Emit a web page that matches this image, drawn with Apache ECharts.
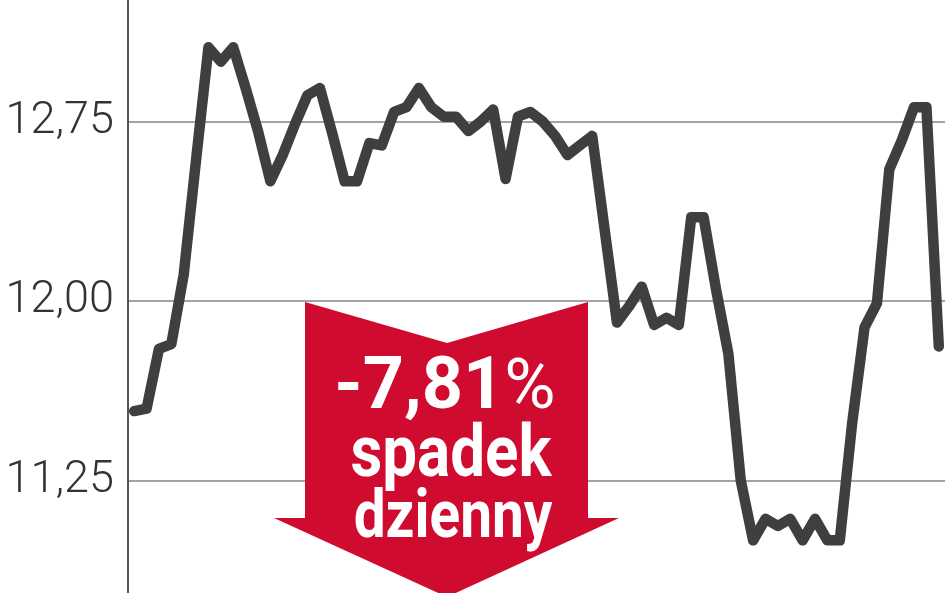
<!DOCTYPE html>
<html>
<head>
<meta charset="utf-8">
<script src="https://cdn.jsdelivr.net/npm/echarts@6/dist/echarts.min.js"></script>
<style>
html,body{margin:0;padding:0;background:#fff;overflow:hidden;width:948px;height:593px;}
#wrap{position:relative;width:948px;height:593px;overflow:hidden;}
#chart{position:absolute;left:0;top:-58px;width:948px;height:718px;}
</style>
</head>
<body>
<div id="wrap"><div id="chart"></div></div>
<script>
var days = ['D1','D2','D3','D4','D5','D6','D7','D8','D9','D10','D11','D12','D13','D14','D15','D16','D17','D18','D19','D20','D21','D22','D23','D24','D25','D26','D27','D28','D29','D30','D31','D32','D33','D34','D35','D36','D37','D38','D39','D40','D41','D42','D43','D44','D45','D46','D47','D48','D49','D50','D51','D52','D53','D54','D55','D56','D57','D58','D59','D60','D61','D62','D63','D64','D65','D66'];
var prices = [11.54,11.55,11.80,11.82,12.11,12.59,13.06,13.00,13.06,12.89,
              12.71,12.50,12.61,12.74,12.86,12.89,12.70,12.50,12.50,12.66,
              12.65,12.79,12.81,12.89,12.81,12.77,12.77,12.71,12.75,12.80,
              12.51,12.77,12.79,12.75,12.69,12.61,12.65,12.69,12.30,11.91,
              11.98,12.06,11.90,11.93,11.90,12.35,12.35,12.05,11.78,11.25,
              11.00,11.09,11.06,11.09,11.00,11.09,11.00,11.00,11.49,11.89,
              11.99,12.55,12.67,12.81,12.81,11.81];
var tickValues = [11.25, 12.00, 12.75];
var tickLabels = ['11,25', '12,00', '12,75'];
var changeText = '-7,81';
var noteLines = ['spadek', 'dzienny'];

var OFF = 58; // chart div is shifted up by this many pixels
var chart = echarts.init(document.getElementById('chart'), null, {renderer: 'canvas'});
chart.setOption({
  animation: false,
  backgroundColor: '#ffffff',
  grid: {left: 128, right: 3, top: 0, bottom: 0, containLabel: false},
  xAxis: {
    type: 'category',
    data: days,
    boundaryGap: true,
    show: false
  },
  yAxis: {
    type: 'value',
    min: 10.5,
    max: 13.5,
    interval: 0.75,
    axisLine: {show: true, lineStyle: {color: '#555555', width: 2}},
    axisTick: {show: false},
    splitLine: {show: true, lineStyle: {color: '#a3a3a3', width: 2}},
    axisLabel: {
      margin: 14,
      color: '#333333',
      fontFamily: 'Roboto',
      fontWeight: 300,
      fontSize: 45,
      formatter: function (v) {
        for (var i = 0; i < tickValues.length; i++) {
          if (Math.abs(v - tickValues[i]) < 1e-6) return tickLabels[i];
        }
        return '';
      }
    }
  },
  series: [{
    type: 'line',
    data: prices,
    showSymbol: false,
    lineStyle: {color: '#3f3f3f', width: 10.5, cap: 'round', join: 'round'},
    z: 3
  }],
  graphic: [
    {
      type: 'polygon',
      z: 2,
      shape: {points: [[305,302+OFF],[447,343+OFF],[588,302+OFF],[588,518+OFF],[619,518+OFF],[447,597+OFF],[274,518+OFF],[305,518+OFF]]},
      style: {fill: '#cf0b2f'}
    },
    {
      type: 'text',
      z: 4,
      x: 445, y: 426 + OFF,
      style: {
        text: '{a|' + changeText + '}{b|%}',
        align: 'center',
        verticalAlign: 'bottom',
        rich: {
          a: {fontFamily: 'Roboto', fontWeight: 'bold', fontSize: 72, fill: '#ffffff', lineHeight: 72},
          b: {fontFamily: 'Roboto', fontWeight: 'normal', fontSize: 70, fill: '#ffffff', lineHeight: 72}
        }
      }
    },
    {
      type: 'text',
      z: 4,
      x: 451, y: 422 + OFF,
      scaleX: 0.86,
      style: {
        text: noteLines[0],
        align: 'center',
        verticalAlign: 'top',
        fontFamily: 'Roboto', fontWeight: 'bold', fontSize: 72, fill: '#ffffff'
      }
    },
    {
      type: 'text',
      z: 4,
      x: 453, y: 487 + OFF,
      scaleX: 0.86,
      style: {
        text: noteLines[1],
        align: 'center',
        verticalAlign: 'top',
        fontFamily: 'Roboto', fontWeight: 'bold', fontSize: 66, fill: '#ffffff'
      }
    }
  ]
});
</script>
</body>
</html>
